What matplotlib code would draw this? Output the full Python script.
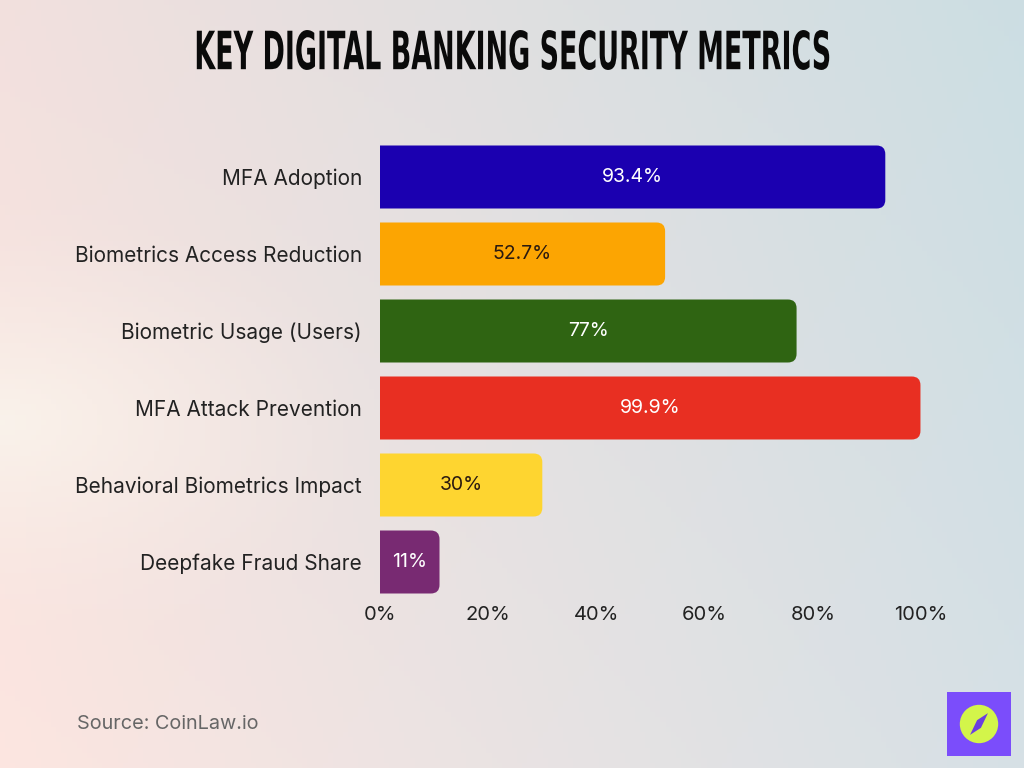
import matplotlib.pyplot as plt
import numpy as np
from matplotlib.patches import FancyBboxPatch, Rectangle, Circle, Polygon
from matplotlib.patheffects import AbstractPathEffect
from matplotlib.transforms import Affine2D

categories = ['MFA Adoption', 'Biometrics Access Reduction', 'Biometric Usage (Users)',
              'MFA Attack Prevention', 'Behavioral Biometrics Impact', 'Deepfake Fraud Share']
values = [93.4, 52.7, 77, 99.9, 30, 11]
labels = ['93.4%', '52.7%', '77%', '99.9%', '30%', '11%']
colors = ['#1b00b0', '#fca502', '#2f6412', '#e82f22', '#fed530', '#782a72']
text_colors = ['white', '#2a1a10', 'white', 'white', '#2a1a10', 'white']
xticks = [0, 20, 40, 60, 80, 100]


class Stretch(AbstractPathEffect):
    # rescale the glyphs around a centre point (display px) to mimic a tall condensed face
    def __init__(self, cx, cy, sx, sy):
        super().__init__()
        self.cx, self.cy, self.sx, self.sy = cx, cy, sx, sy

    def draw_path(self, renderer, gc, tpath, affine, rgbFace=None):
        t = affine + Affine2D().translate(-self.cx, -self.cy).scale(self.sx, self.sy) \
            .translate(self.cx, self.cy)
        renderer.draw_path(gc, tpath, t, rgbFace)


plt.rcParams['font.family'] = ['Inter', 'DejaVu Sans']

fig = plt.figure(figsize=(10.24, 7.68), dpi=100)

# background gradient
bg = fig.add_axes([0, 0, 1, 1])
gx = np.linspace(0, 1, 200)
gy = np.linspace(0, 1, 150)
X, Y = np.meshgrid(gx, gy)
tl = np.array([0.95, 0.88, 0.87])
tr = np.array([0.80, 0.87, 0.89])
bl = np.array([0.99, 0.90, 0.88])
br = np.array([0.84, 0.88, 0.90])
xx = X[..., None]
yy = Y[..., None]
img = (tl * (1 - xx) + tr * xx) * (1 - yy) + (bl * (1 - xx) + br * xx) * yy
cream = np.array([0.98, 0.95, 0.92])
w = np.clip(1 - np.hypot(X / 0.4, (Y - 0.55) / 0.3), 0, 1)[..., None] ** 1.5
img = img * (1 - w) + cream * w
bg.imshow(img, extent=[0, 1, 0, 1], aspect='auto', origin='upper')
bg.axis('off')

ax = fig.add_axes([380 / 1024, 1 - 600.5 / 768, 541 / 1024, 462 / 768])
ax.set_facecolor('none')
y = np.arange(len(categories))
h = 63 / 77
r = 1.6
aspect = 5.41 / 77
for yi, v, c, lab, tc in zip(y, values, colors, labels, text_colors):
    # start left of zero so the clipped left corners stay square
    ax.add_patch(FancyBboxPatch((-5, yi - h / 2), v + 5, h,
                                boxstyle=f'round,pad=0,rounding_size={r}',
                                mutation_aspect=aspect, fc=c, ec='none'))
    ax.text(v / 2, yi, lab, ha='center', va='center', color=tc, fontsize=14)

ax.set_xlim(0, 100)
ax.set_ylim(len(categories) - 0.5, -0.5)
ax.set_yticks(y)
ax.set_yticklabels(categories, fontsize=15, color='#222222')
ax.set_xticks(xticks)
ax.set_xticklabels([f'{t}%' for t in xticks], fontsize=14.5, color='#222222')
ax.tick_params(length=0)
ax.tick_params(axis='y', pad=13)
ax.tick_params(axis='x', pad=4)
for s in ax.spines.values():
    s.set_visible(False)

fig.text(0.5, 1 - 54 / 768, 'KEY DIGITAL BANKING SECURITY METRICS', ha='center', va='center',
         fontsize=20, fontweight='bold', family='DejaVu Sans', color='#0a0a0a',
         path_effects=[Stretch(512, 768 - 54, 0.97, 1.9)])
fig.text(77 / 1024, 1 - 724 / 768, 'Source: CoinLaw.io', ha='left', va='center',
         fontsize=14.3, color='#666666')

# logo
lg = fig.add_axes([947 / 1024, 1 - 756 / 768, 64 / 1024, 64 / 768])
lg.set_xlim(0, 1)
lg.set_ylim(0, 1)
lg.axis('off')
lg.add_patch(Rectangle((0, 0), 1, 1, fc='#7b4dfb', ec='none'))
lg.add_patch(Circle((0.5, 0.5), 0.3, fc='#d3f54a', ec='none'))
lg.add_patch(Polygon([[0.36, 0.33], [0.47, 0.56], [0.64, 0.67], [0.53, 0.44]], fc='#6b3fe0', ec='none'))

fig.savefig('out.png', dpi=100)
